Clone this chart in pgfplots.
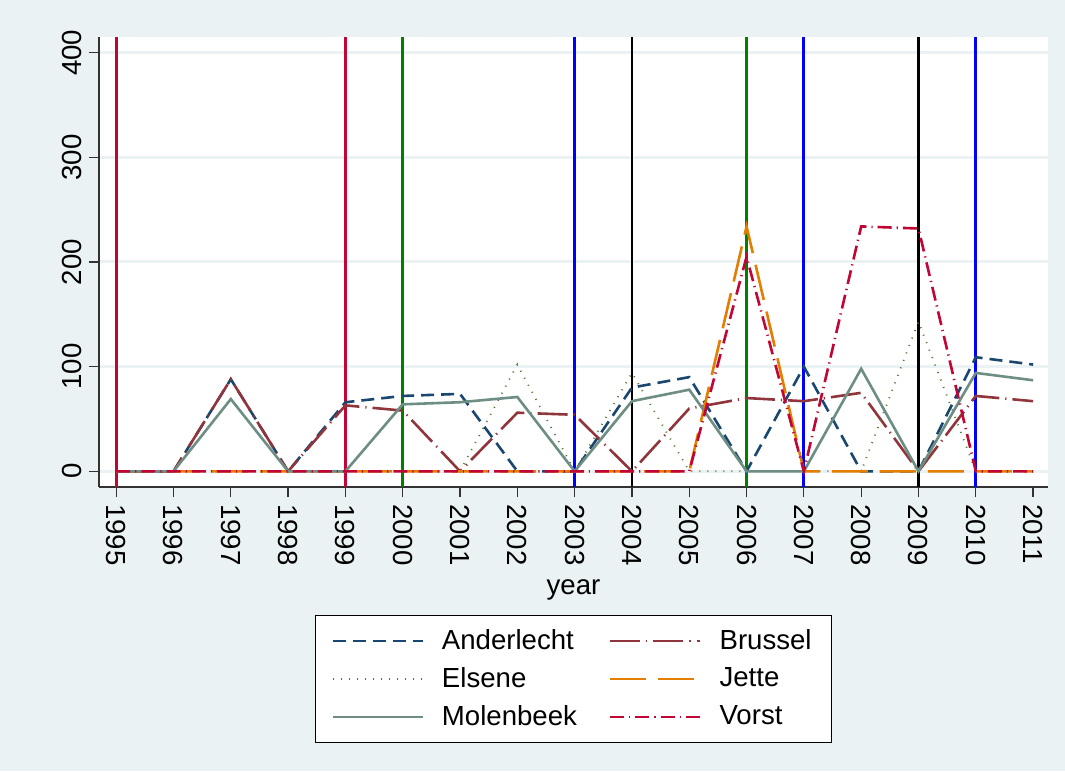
\documentclass[border=0pt]{standalone}
\usepackage{pgfplots}
\pgfplotsset{compat=1.18}
\usepackage{fontspec}
\setmainfont{Liberation Sans}
\definecolor{bg}{HTML}{EAF2F3}
\definecolor{cnavy}{HTML}{1A476F}
\definecolor{cmaroon}{HTML}{90353B}
\definecolor{colive}{HTML}{55752F}
\definecolor{corange}{HTML}{E37E00}
\definecolor{cteal}{HTML}{6E8E84}
\definecolor{ccran}{HTML}{C10534}
\definecolor{vgreen}{HTML}{008000}
\definecolor{vblue}{HTML}{0000FF}
\begin{document}
\begin{tikzpicture}[x=1pt,y=1pt]
\path[use as bounding box, fill=bg] (0,0) rectangle (532.5,385.5);
\begin{axis}[
  at={(49.5pt,142pt)}, anchor=south west,
  scale only axis, width=474.5pt, height=225pt,
  xmin=1994.7, xmax=2011.26, ymin=-15, ymax=415,
  axis lines*=left, axis line style={-, line width=0.6pt, black!80},
  axis background/.style={fill=white},
  xtick={1995,...,2011}, ytick={0,100,200,300,400},
  tick align=outside, major tick length=5pt,
  tick style={line width=0.6pt, black!80},
  /pgf/number format/assume math mode=true,
  /pgf/number format/1000 sep={},
  ticklabel style={font=\fontsize{13.8}{16}\selectfont},
  xticklabel style={rotate=-90, anchor=west},
  yticklabel style={rotate=90, anchor=south},
  ymajorgrids, major grid style={color=bg, line width=1.5pt},
  xlabel={year}, xlabel style={font=\fontsize{13.8}{16}\selectfont},
  legend columns=2,
  legend cell align=left,
  legend style={at={(0.5,-0.2844)}, anchor=north, draw=black, fill=white,
    font=\fontsize{13.8}{16}\selectfont, inner xsep=8pt, inner ysep=5pt,
    row sep=3.5pt,
    /tikz/every odd column/.append style={column sep=7pt},
    /tikz/every even column/.append style={column sep=14pt}},
  legend image code/.code={\draw[#1] (0pt,0pt) -- (45pt,0pt);},
  every axis plot/.append style={line width=1.3pt},
]
% vertical reference lines
\addplot[forget plot, ccran, line width=1.4pt] coordinates {(1995,-15) (1995,415)};
\addplot[forget plot, ccran, line width=1.4pt] coordinates {(1999,-15) (1999,415)};
\addplot[forget plot, vgreen, line width=1.4pt] coordinates {(2000,-15) (2000,415)};
\addplot[forget plot, vblue, line width=1.4pt] coordinates {(2003,-15) (2003,415)};
\addplot[forget plot, black, line width=1.4pt] coordinates {(2004,-15) (2004,415)};
\addplot[forget plot, vgreen, line width=1.4pt] coordinates {(2006,-15) (2006,415)};
\addplot[forget plot, vblue, line width=1.4pt] coordinates {(2007,-15) (2007,415)};
\addplot[forget plot, black, line width=1.4pt] coordinates {(2009,-15) (2009,415)};
\addplot[forget plot, vblue, line width=1.4pt] coordinates {(2010,-15) (2010,415)};
% Anderlecht
\addplot[cnavy, dash pattern=on 6.5pt off 3.5pt] coordinates {
(1995,0) (1996,0) (1997,88) (1998,0) (1999,66) (2000,72) (2001,74) (2002,0) (2003,0)
(2004,80) (2005,90) (2006,0) (2007,100) (2008,0) (2009,0) (2010,109) (2011,102)};
\addlegendentry{Anderlecht}
% Brussel
\addplot[cmaroon, dash pattern=on 15pt off 3pt on 0.6pt off 3pt] coordinates {
(1995,0) (1996,0) (1997,88) (1998,0) (1999,63) (2000,58) (2001,0) (2002,56) (2003,54)
(2004,0) (2005,60) (2006,70) (2007,67) (2008,75) (2009,0) (2010,72) (2011,67)};
\addlegendentry{Brussel}
% Elsene
\addplot[colive, line width=0.9pt, dash pattern=on 0.5pt off 3.5pt] coordinates {
(1995,0) (1996,0) (1997,0) (1998,0) (1999,0) (2000,0) (2001,0) (2002,102) (2003,0)
(2004,94) (2005,0) (2006,0) (2007,0) (2008,0) (2009,143) (2010,0) (2011,0)};
\addlegendentry{Elsene}
% Jette
\addplot[corange, dash pattern=on 18pt off 6pt] coordinates {
(1995,0) (1996,0) (1997,0) (1998,0) (1999,0) (2000,0) (2001,0) (2002,0) (2003,0)
(2004,0) (2005,0) (2006,234) (2007,0) (2008,0) (2009,0) (2010,0) (2011,0)};
\addlegendentry{Jette}
% Molenbeek
\addplot[cteal] coordinates {
(1995,0) (1996,0) (1997,69) (1998,0) (1999,0) (2000,64) (2001,66) (2002,71) (2003,0)
(2004,67) (2005,78) (2006,0) (2007,0) (2008,98) (2009,0) (2010,94) (2011,87)};
\addlegendentry{Molenbeek}
% Vorst
\addplot[ccran, dash pattern=on 7pt off 2.5pt on 0.6pt off 2.5pt] coordinates {
(1995,0) (1996,0) (1997,0) (1998,0) (1999,0) (2000,0) (2001,0) (2002,0) (2003,0)
(2004,0) (2005,0) (2006,205) (2007,0) (2008,234) (2009,232) (2010,0) (2011,0)};
\addlegendentry{Vorst}
\end{axis}
\end{tikzpicture}
\end{document}
